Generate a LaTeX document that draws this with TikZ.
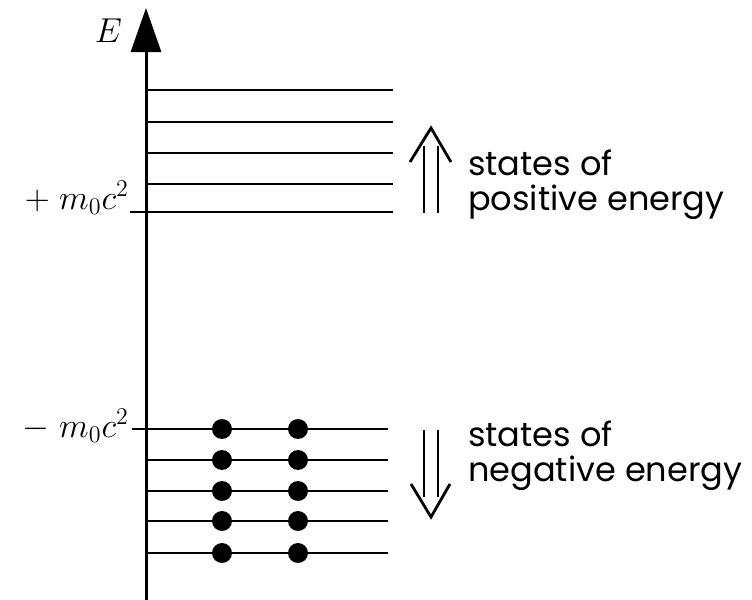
\documentclass[tikz,border=0pt]{standalone}
\usepackage{fontspec}
\newfontfamily\labelfont{Poppins}
\usetikzlibrary{arrows.meta}

\begin{document}
\begin{tikzpicture}[x=0.5pt, y=-0.5pt, line width=1.1pt,
  electron/.style={circle, fill, inner sep=0pt, minimum size=10pt},
  mathlbl/.style={font=\fontsize{18}{20}\selectfont, inner sep=0pt},
  txtlbl/.style={font=\labelfont\fontsize{16.8}{17.5}\selectfont, align=left, inner sep=0pt},
  shaft/.style={line width=1.4pt},
  barb/.style={line width=1.4pt, line join=miter}]
  \useasboundingbox (0,0) rectangle (752,600);

  % === AXIS ===
  \coordinate (axisbot) at (146,600);
  \coordinate (axistop) at (146,8);
  \draw[line width=1.5pt, -{Triangle[length=22pt, width=15pt]}] (axisbot) -- (axistop);
  \node[mathlbl, anchor=base east] (E) at (123,42) {$E$};

  % === POSITIVE ENERGY STATES ===
  \foreach \y [count=\i] in {90,122,153,184} {
    \coordinate (p\i) at (146,\y);
    \draw (p\i) -- (393,\y);
  }
  \coordinate (p5) at (130,212);
  \draw (p5) -- (393,212);
  \node[mathlbl, anchor=base east] (plusm) at (130,209) {$+\;m_0c^2$};

  % Double arrow up
  \draw[shaft] (424,146) -- (424,213) (438,146) -- (438,213);
  \draw[barb] (410,162) -- (431,128) -- (451,162);
  \node[txtlbl, anchor=base west] (poslbl) at (467,210) {states of\\positive energy};

  % === NEGATIVE ENERGY STATES (filled) ===
  \coordinate (n1) at (132,429);
  \draw (n1) -- (388,429);
  \foreach \y [count=\i from 2] in {460,491,521,553} {
    \coordinate (n\i) at (146,\y);
    \draw (n\i) -- (388,\y);
  }
  \foreach \y [count=\i] in {429,460,491,521,553} {
    \node[electron] (ea\i) at (222,\y) {};
    \node[electron] (eb\i) at (298,\y) {};
  }
  \node[mathlbl, anchor=base east] (minusm) at (130,437) {$-\;m_0c^2$};

  % Double arrow down
  \draw[shaft] (424,430) -- (424,497) (438,430) -- (438,497);
  \draw[barb] (411,484) -- (431,517) -- (450,484);
  \node[txtlbl, anchor=base west] (neglbl) at (467,481) {states of\\negative energy};
\end{tikzpicture}
\end{document}
